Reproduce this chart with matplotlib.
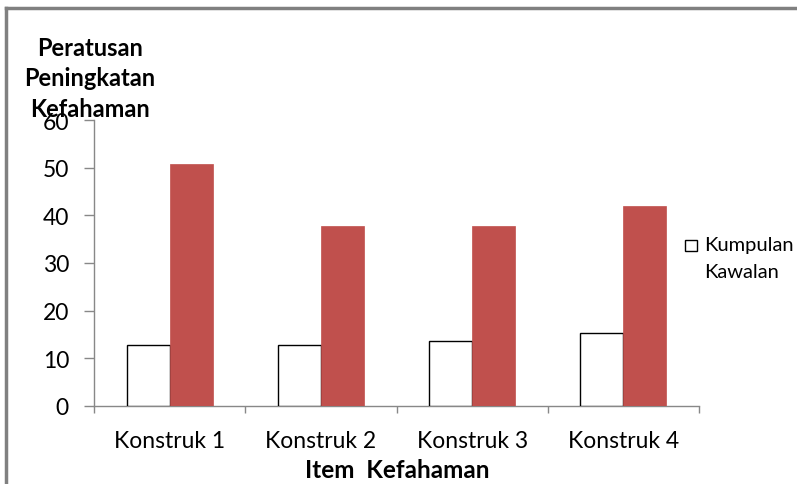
import matplotlib
matplotlib.use("Agg")
import matplotlib.pyplot as plt
from matplotlib.patches import Rectangle
from matplotlib.lines import Line2D
import numpy as np

categories = ["Konstruk 1", "Konstruk 2", "Konstruk 3", "Konstruk 4"]
kawalan = [12.8, 12.8, 13.6, 15.3]
rawatan = [50.7, 37.7, 37.7, 41.9]
yticks = [0, 10, 20, 30, 40, 50, 60]

plt.rcParams['font.family'] = ['Lato', 'DejaVu Sans']

fig = plt.figure(figsize=(7.97, 4.85), dpi=100)
W, H = 797, 485
ax = fig.add_axes([94 / W, (H - 407) / H, (699 - 94) / W, (407 - 121) / H])

x = np.arange(len(categories))
bw = 0.285
ax.bar(x - bw / 2, kawalan, bw, facecolor='white', edgecolor='black', linewidth=1.0, zorder=3)
ax.bar(x + bw / 2, rawatan, bw, facecolor='#C0504D', edgecolor='#C0504D', linewidth=0.5, zorder=3)

ax.set_xlim(-0.5, len(categories) - 0.5)
ax.set_ylim(0, 60)
ax.set_yticks(yticks)
ax.set_yticklabels([str(v) for v in yticks], fontsize=16.5)
ax.tick_params(axis='y', direction='out', length=7, width=1, color='#888888', pad=11)

ax.set_xticks(np.arange(-0.5, len(categories), 1.0))
ax.set_xticklabels([])
ax.tick_params(axis='x', which='major', direction='out', length=5, width=1, color='#888888')
ax.set_xticks(x, minor=True)
ax.set_xticklabels(categories, minor=True, fontsize=16.5)
ax.tick_params(axis='x', which='minor', length=0, pad=17)

for s in ['top', 'right']:
    ax.spines[s].set_visible(False)
for s in ['left', 'bottom']:
    ax.spines[s].set_color('#888888')
    ax.spines[s].set_linewidth(1)

fig.text(90 / W, 1 - 79 / H, "Peratusan\nPeningkatan\nKefahaman", ha='center', va='center',
         fontsize=17, fontweight='bold', linespacing=1.38)
fig.text(397 / W, 1 - 471 / H, "Item  Kefahaman", ha='center', va='center',
         fontsize=17.5, fontweight='bold')

# legend
fig.patches.append(Rectangle((685 / W, 1 - 252 / H), 12 / W, 11 / H, transform=fig.transFigure,
                             facecolor='white', edgecolor='black', linewidth=1))
fig.text(704 / W, 1 - 246 / H, "Kumpulan", ha='left', va='center', fontsize=14.5)
fig.text(704 / W, 1 - 273 / H, "Kawalan", ha='left', va='center', fontsize=14.5)

# frame lines (top and left)
fig.add_artist(Line2D([6 / W, 1], [1 - 9 / H, 1 - 9 / H], transform=fig.transFigure, color='#808080', linewidth=2.5))
fig.add_artist(Line2D([6 / W, 6 / W], [0, 1 - 9 / H], transform=fig.transFigure, color='#808080', linewidth=2.5))

fig.savefig("out.png", dpi=100)
